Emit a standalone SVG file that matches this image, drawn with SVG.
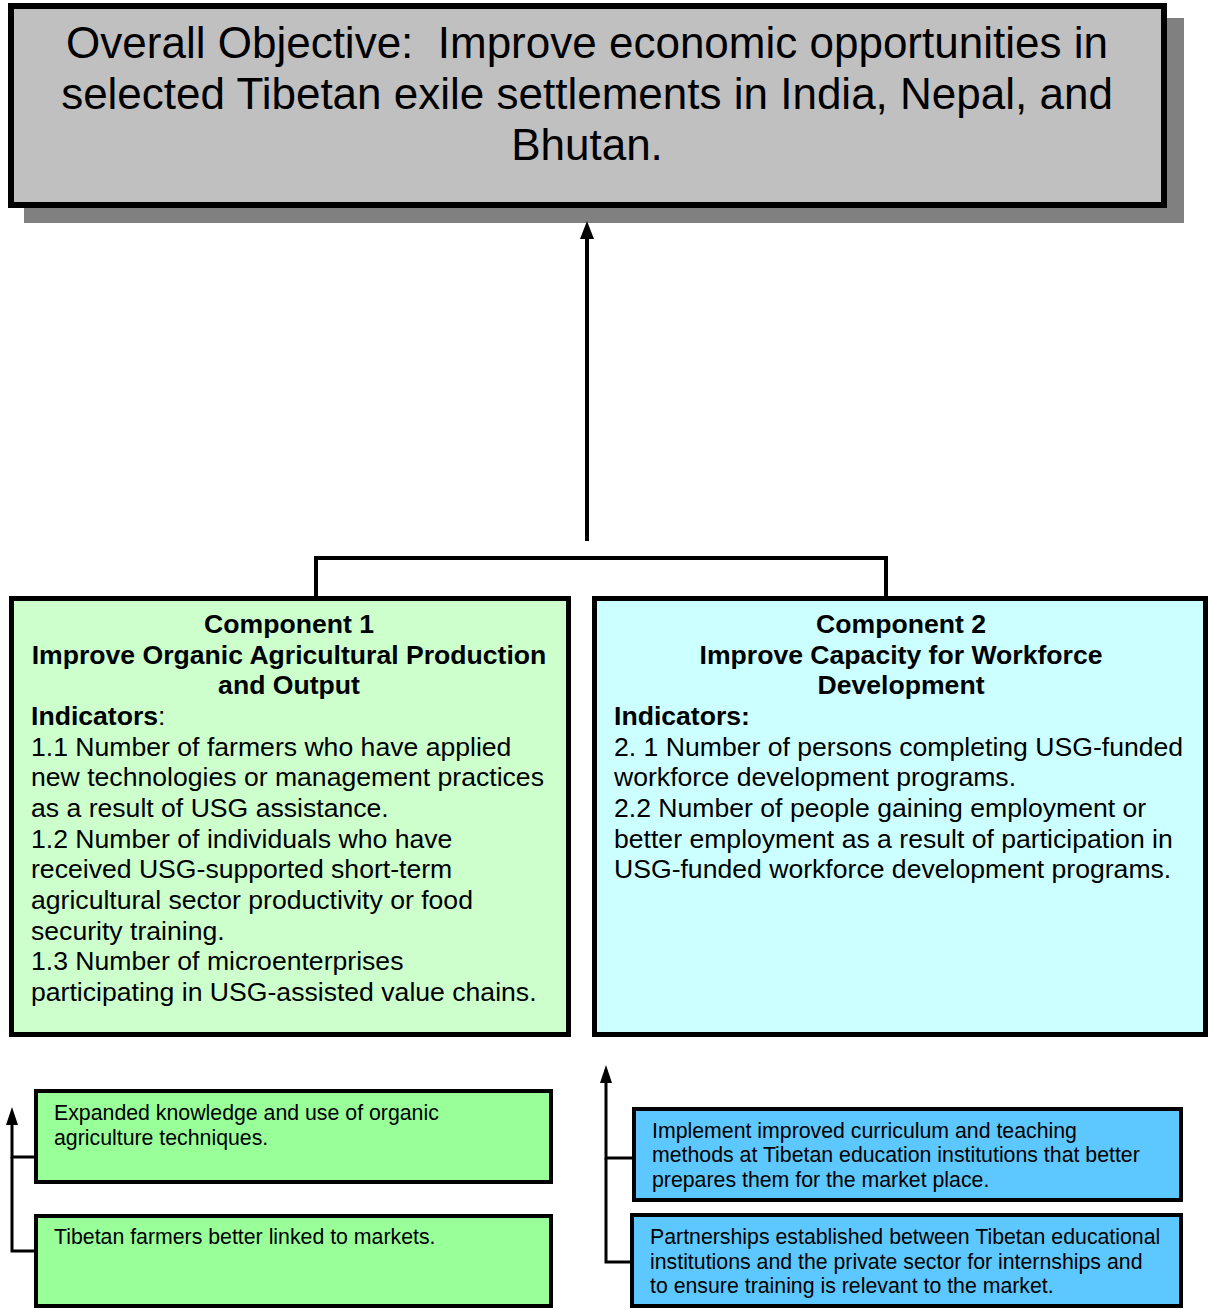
<svg xmlns="http://www.w3.org/2000/svg" width="1209" height="1310" viewBox="0 0 1209 1310">
<style>
text{font-family:"Liberation Sans",Arial,sans-serif;fill:#000}
.obj{font-size:44px;text-anchor:middle;white-space:pre}
.comp{font-size:26.6px}
.b{font-weight:bold}
.c{text-anchor:middle}
.sm{font-size:21.3px}
.box{stroke:#000}
.conn{fill:none;stroke:#000;stroke-width:4}
.thin{fill:none;stroke:#000;stroke-width:3}
</style>
<g id="objective">
<rect x="24" y="18" width="1160" height="205" fill="#808080"/>
<rect class="box" x="11" y="6" width="1153" height="199" fill="#C0C0C0" stroke-width="6"/>
<text class="obj" x="587" y="58" xml:space="preserve">Overall Objective:  Improve economic opportunities in</text>
<text class="obj" x="587" y="109">selected Tibetan exile settlements in India, Nepal, and</text>
<text class="obj" x="587" y="160">Bhutan.</text>
</g>
<g id="connectors">
<line class="conn" x1="587" y1="541" x2="587" y2="236"/>
<path d="M587,221 L580,239 L594,239 Z" fill="#000"/>
<path class="conn" d="M316,597 V558 H886 V597"/>
<path class="thin" d="M38,1157 H12 V1122"/>
<path class="thin" d="M34,1251 H12 V1157"/>
<path d="M12,1107 L6,1125 L18,1125 Z" fill="#000"/>
<path class="thin" d="M632,1158 H606 V1080"/>
<path class="thin" d="M630,1262 H606 V1158"/>
<path d="M606,1065 L600,1083 L612,1083 Z" fill="#000"/>
</g>
<g id="component1">
<rect class="box" x="11.5" y="598.5" width="557" height="436" fill="#CCFFCC" stroke-width="5"/>
<text class="comp b c" x="289" y="633">Component 1</text>
<text class="comp b c" x="289" y="664">Improve Organic Agricultural Production</text>
<text class="comp b c" x="289" y="694">and Output</text>
<text class="comp" x="31" y="725"><tspan class="b">Indicators</tspan>:</text>
<text class="comp" x="31" y="756">1.1 Number of farmers who have applied</text>
<text class="comp" x="31" y="786">new technologies or management practices</text>
<text class="comp" x="31" y="817">as a result of USG assistance.</text>
<text class="comp" x="31" y="848">1.2 Number of individuals who have</text>
<text class="comp" x="31" y="878">received USG-supported short-term</text>
<text class="comp" x="31" y="909">agricultural sector productivity or food</text>
<text class="comp" x="31" y="940">security training.</text>
<text class="comp" x="31" y="970">1.3 Number of microenterprises</text>
<text class="comp" x="31" y="1001">participating in USG-assisted value chains.</text>
</g>
<g id="component2">
<rect class="box" x="594.5" y="598.5" width="611" height="436" fill="#CCFFFF" stroke-width="5"/>
<text class="comp b c" x="901" y="633">Component 2</text>
<text class="comp b c" x="901" y="664">Improve Capacity for Workforce</text>
<text class="comp b c" x="901" y="694">Development</text>
<text class="comp b" x="614" y="725">Indicators:</text>
<text class="comp" x="614" y="756">2. 1 Number of persons completing USG-funded</text>
<text class="comp" x="614" y="786">workforce development programs.</text>
<text class="comp" x="614" y="817">2.2 Number of people gaining employment or</text>
<text class="comp" x="614" y="848">better employment as a result of participation in</text>
<text class="comp" x="614" y="878">USG-funded workforce development programs.</text>
</g>
<g id="result1a">
<rect class="box" x="36" y="1091" width="515" height="91" fill="#99FF99" stroke-width="4"/>
<text class="sm" x="54" y="1120">Expanded knowledge and use of organic</text>
<text class="sm" x="54" y="1145">agriculture techniques.</text>
</g>
<g id="result1b">
<rect class="box" x="36" y="1216" width="515" height="90" fill="#99FF99" stroke-width="4"/>
<text class="sm" x="54" y="1244">Tibetan farmers better linked to markets.</text>
</g>
<g id="result2a">
<rect class="box" x="634" y="1109" width="547" height="91" fill="#5CC8FF" stroke-width="4"/>
<text class="sm" x="652" y="1138">Implement improved curriculum and teaching</text>
<text class="sm" x="652" y="1162">methods at Tibetan education institutions that better</text>
<text class="sm" x="652" y="1187">prepares them for the market place.</text>
</g>
<g id="result2b">
<rect class="box" x="632" y="1215" width="549" height="91" fill="#5CC8FF" stroke-width="4"/>
<text class="sm" x="650" y="1244">Partnerships established between Tibetan educational</text>
<text class="sm" x="650" y="1269">institutions and the private sector for internships and</text>
<text class="sm" x="650" y="1293">to ensure training is relevant to the market.</text>
</g>
</svg>
